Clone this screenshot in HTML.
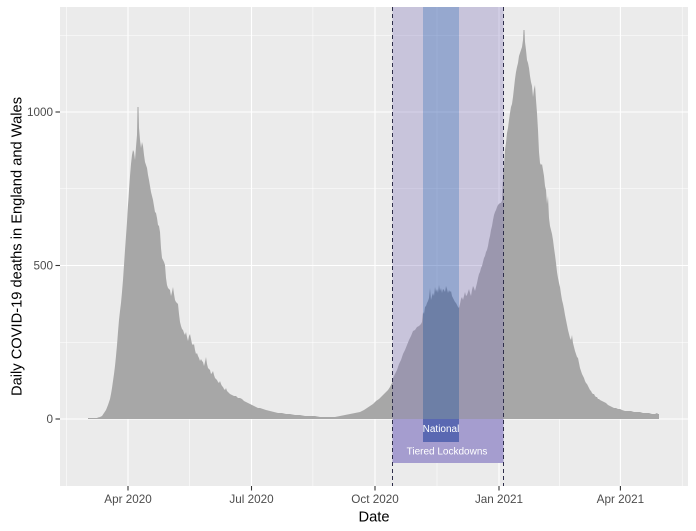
<!DOCTYPE html>
<html>
<head>
<meta charset="utf-8">
<style>
html,body{margin:0;padding:0;background:#fff;}
svg{display:block;}
text{font-family:"Liberation Sans",Arial,sans-serif;}
</style>
</head>
<body>
<svg width="696" height="531" viewBox="0 0 696 531" xmlns="http://www.w3.org/2000/svg">
<rect x="0" y="0" width="696" height="531" fill="#ffffff"/>
<!-- panel -->
<rect x="60" y="7" width="628" height="479" fill="#EBEBEB"/>
<!-- minor grid -->
<g stroke="#ffffff" stroke-width="0.55">
<line x1="60" x2="688" y1="342.25" y2="342.25"/>
<line x1="60" x2="688" y1="188.75" y2="188.75"/>
<line x1="60" x2="688" y1="35.25" y2="35.25"/>
<line x1="66.6" x2="66.6" y1="7" y2="486"/>
<line x1="189.4" x2="189.4" y1="7" y2="486"/>
<line x1="312.9" x2="312.9" y1="7" y2="486"/>
<line x1="437" x2="437" y1="7" y2="486"/>
<line x1="559.7" x2="559.7" y1="7" y2="486"/>
<line x1="682.2" x2="682.2" y1="7" y2="486"/>
</g>
<!-- major grid -->
<g stroke="#ffffff" stroke-width="1.1">
<line x1="60" x2="688" y1="419" y2="419"/>
<line x1="60" x2="688" y1="265.5" y2="265.5"/>
<line x1="60" x2="688" y1="112" y2="112"/>
<line x1="128" x2="128" y1="7" y2="486"/>
<line x1="251.5" x2="251.5" y1="7" y2="486"/>
<line x1="375" x2="375" y1="7" y2="486"/>
<line x1="499" x2="499" y1="7" y2="486"/>
<line x1="620.4" x2="620.4" y1="7" y2="486"/>
</g>
<!-- bars -->
<polygon fill="#A7A7A7" points="88,419 88,418 97,418 98,417.5 100,417 102,416 104,413 106,410 108,405 109,402 110,399 111,394 112,388 113,381 114,374 115,366 116,356 117,345 118,332 119,320 120,311 121,303 122,292 123,280 124,265 125,250 126,236 127,222 128,205 129,190 130,176 131,164 132,155 133,150 134,152 135,160 136,147 137,135 137.5,107 138.5,107 139,128 140,140 141,148 142,142 143,146 144,155 145,162 146,165 147,168 148,175 149,180 150,186 151,192 152,196 153,200 154,206 155,212 156,213 157,218 158,225 159,226 160,232 161,248 162,258 163,260 164,262 165,265 166,278 167,285 168,288 169,289 170,290 171,296 172,292 173,287 174,294 175,300 176,302 177,303 178,304 179,314 180,322 181,326 182,329 183,330 184,333 185,335 186,332 187,337 188,341 189,336 190,334 191,339 192,344 193,345 194,344 195,350 196,354 197,353 198,356 199,358 200,361 201,359 202,361 203,362 204,366 205,362 206,357 207,364 208,368 209,369 210,370 211,374 212,373 213,371 214,375 215,378 216,379 217,380 218,382 219,383 220,381 221,384 222,386 223,387 224,389 225,390 226,388 227,391 228,392 229,393 230,394 232,395 234,396 236,396 238,398 240,398 242,399 244,401 246,402 248,403 250,404 252,405 254,406 256,407 258,408 260,408 263,409 266,410 270,411 274,412 278,413 282,413 286,414 290,414 295,415 300,415 305,416 310,416 315,416 320,417 325,417 330,417 335,417 340,416 345,415 350,414 355,413 360,412 364,410 367,408 370,406 373,404 376,401 379,399 382,396 385,393 388,390 390,387 392,383 393,378 395,374 397,370 399,364 401,360 403,354 405,350 407,345 409,340 411,336 413,331 415,330 417,327 419,326 421,324 422,322 423,312 424,314 425,307 426,306 427,303 428,301 429,298 430,288 431,300 432,296 433,293 434,296 435,287 436,292 437,289 438,293 439,285 440,291 441,288 442,293 443,289 444,290 445,292 446,286 447,289 448,293 449,290 450,292 451,291 452,296 453,298 454,300 455,302 456,303 457,305 458,307 459,308 460,304 461,299 462,297 463,300 464,296 465,292 466,296 467,295 468,292 469,289 470,293 471,296 472,290 473,286 474,288 475,291 476,287 477,283 478,278 479,274 480,272 481,268 482,266 483,262 484,258 485,256 486,252 487,250 488,246 489,240 490,236 491,230 492,226 493,220 494,215 495,212 496,210 497,207 498,205 499,204 500,203 501,203 502,201 503,176 504,165 505,150 506,143 507,133 508,128 509,120 510,113 511,107 512,104 513,97 514,88 515,79 516,72 517,67 518,63 519,56 520,53 521,50 522,47 523,40 523.5,30 524.5,30 525,42 526,50 527,60 528,63 529,68 530,76 531,82 532,86 533,97 534,89 535,85 536,100 537,113 538,130 539,152 540,163 541,165 542,164 543,170 544,176 545,186 546,190 547,204 548,196 549,218 550,226 551,230 552,234 553,240 554,248 555,255 556,263 557,272 558,278 559,283 560,287 561,294 562,300 563,304 564,309 565,315 566,320 567,325 568,330 569,334 570,338 571,340 572,335 573,343 574,347 575,351 576,354 577,357 578,358 579,363 580,368 581,371 582,374 583,376 584,378 585,381 586,383 587,384 588,386 589,388 590,390 591,391 592,393 593,394 594,394 595,396 596,397 597,397 598,399 599,399 600,400 602,401 604,402 606,403 608,405 610,406 612,407 614,408 616,408 618,409 620,409 622,410 625,411 628,411 631,411 634,412 637,412 640,412 643,413 646,413 649,413 652,414 655,414 657,413 658,414 659,414 659,419"/>
<!-- lockdown overlays (above zero) -->
<rect x="392.5" y="7" width="30.5" height="412" fill="rgb(131,119,189)" fill-opacity="0.33"/>
<rect x="459" y="7" width="44.5" height="412" fill="rgb(131,119,189)" fill-opacity="0.33"/>
<rect x="423" y="7" width="36" height="412" fill="rgb(22,67,165)" fill-opacity="0.4"/>
<!-- label boxes below zero -->
<rect x="392.5" y="419" width="111" height="44" fill="#A59DCF"/>
<rect x="423" y="419" width="36" height="23" fill="#5A68B2"/>
<text x="441" y="432" font-size="10" fill="#ffffff" text-anchor="middle">National</text>
<text x="447" y="454.5" font-size="10" fill="#ffffff" text-anchor="middle">Tiered Lockdowns</text>
<!-- dashed lines -->
<g stroke="#2E2E4A" stroke-width="1" stroke-dasharray="4,3">
<line x1="392.5" x2="392.5" y1="7" y2="486"/>
<line x1="503.5" x2="503.5" y1="7" y2="486"/>
</g>
<!-- ticks -->
<g stroke="#333333" stroke-width="1.1">
<line x1="55.5" x2="60" y1="419" y2="419"/>
<line x1="55.5" x2="60" y1="265.5" y2="265.5"/>
<line x1="55.5" x2="60" y1="112" y2="112"/>
<line x1="128" x2="128" y1="486" y2="490.5"/>
<line x1="251.5" x2="251.5" y1="486" y2="490.5"/>
<line x1="375" x2="375" y1="486" y2="490.5"/>
<line x1="499" x2="499" y1="486" y2="490.5"/>
<line x1="620.4" x2="620.4" y1="486" y2="490.5"/>
</g>
<!-- tick labels -->
<g font-size="11.7" fill="#4D4D4D">
<text x="53" y="423.2" text-anchor="end">0</text>
<text x="53" y="269.7" text-anchor="end">500</text>
<text x="53" y="116.2" text-anchor="end">1000</text>
<text x="128" y="503" text-anchor="middle">Apr 2020</text>
<text x="251.5" y="503" text-anchor="middle">Jul 2020</text>
<text x="375" y="503" text-anchor="middle">Oct 2020</text>
<text x="499" y="503" text-anchor="middle">Jan 2021</text>
<text x="620.4" y="503" text-anchor="middle">Apr 2021</text>
</g>
<!-- axis titles -->
<text x="374" y="521.5" font-size="14.7" fill="#000" text-anchor="middle">Date</text>
<text transform="translate(21.5,246.5) rotate(-90)" x="0" y="0" font-size="14.7" fill="#000" text-anchor="middle">Daily COVID-19 deaths in England and Wales</text>
</svg>
</body>
</html>
